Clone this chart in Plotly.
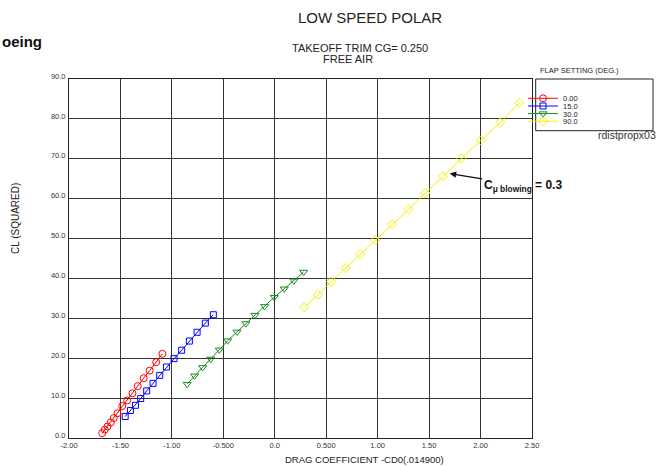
import plotly.graph_objects as go

# ---- data ----
flap_labels = ["0.00", "15.0", "30.0", "90.0"]

cd_flap0 = [-1.678, -1.652, -1.626, -1.594, -1.565, -1.529, -1.483, -1.435,
            -1.383, -1.332, -1.274, -1.216, -1.153, -1.092]
cl2_flap0 = [1.2, 2.1, 2.9, 3.9, 5.0, 6.2, 8.0, 9.4,
             11.2, 13.0, 15.0, 16.9, 19.0, 21.1]

cd_flap15 = [-1.454, -1.403, -1.354, -1.303, -1.245, -1.183, -1.118, -1.053,
             -0.979, -0.905, -0.830, -0.755, -0.675, -0.597]
cl2_flap15 = [5.4, 6.9, 8.2, 9.9, 11.8, 13.7, 15.7, 17.8,
              19.9, 22.0, 24.3, 26.5, 28.8, 30.9]

cd_flap30 = [-0.852, -0.779, -0.701, -0.623, -0.539, -0.458, -0.367, -0.280,
             -0.192, -0.099, -0.005, 0.092, 0.186, 0.280]
cl2_flap30 = [13.5, 15.6, 17.7, 19.8, 22.1, 24.4, 26.6, 28.7,
              30.8, 33.0, 35.3, 37.4, 39.4, 41.6]

cd_flap90 = [0.286, 0.419, 0.549, 0.691, 0.830, 0.979, 1.141, 1.299,
             1.464, 1.633, 1.814, 2.002, 2.192, 2.377]
cl2_flap90 = [32.8, 35.9, 39.2, 42.6, 46.1, 49.7, 53.6, 57.3,
              61.4, 65.6, 70.1, 74.6, 79.1, 84.0]

x_tick_vals = [-2.0, -1.5, -1.0, -0.5, 0.0, 0.5, 1.0, 1.5, 2.0, 2.5]
x_tick_text = ["-2.00", "-1.50", "-1.00", "-0.500", "0.0", "0.500",
               "1.00", "1.50", "2.00", "2.50"]
y_tick_vals = [0, 10, 20, 30, 40, 50, 60, 70, 80, 90]
y_tick_text = ["0.0", "10.0", "20.0", "30.0", "40.0", "50.0",
               "60.0", "70.0", "80.0", "90.0"]

blowing_point = (1.70, 66.3)

FONT = "Arial, Liberation Sans, Helvetica, sans-serif"

series = [
    (cd_flap0, cl2_flap0, "#ff0000", "circle-open", 7, "legend"),
    (cd_flap15, cl2_flap15, "#0000ff", "square-open", 6, "legend2"),
    (cd_flap30, cl2_flap30, "#1a8c1a", "triangle-down-open", 7, "legend3"),
    (cd_flap90, cl2_flap90, "#f2f200", "diamond-open", 7, "legend4"),
]

fig = go.Figure()
for (xs, ys, col, sym, sz, lg), name in zip(series, flap_labels):
    fig.add_trace(go.Scatter(
        x=xs, y=ys, name=name, mode="lines+markers", showlegend=True,
        line=dict(color=col, width=1),
        marker=dict(symbol=sym, size=sz, color=col, line=dict(width=1, color=col)),
        legend=lg,
    ))

FIG_W, FIG_H = 657, 466
PLOT_L, PLOT_R, PLOT_T, PLOT_B = 69, 532, 79, 438  # window pixels
PW = PLOT_R - PLOT_L
PH = PLOT_B - PLOT_T


def px_x(px):
    return (px - PLOT_L) / PW


def px_y(py):
    return (PLOT_B - py) / PH


legend_rows = [98.3, 106.0, 113.6, 121.2]
leg_common = dict(xanchor="left", yanchor="middle", bgcolor="rgba(0,0,0,0)",
                  borderwidth=0, visible=True,
                  font=dict(family=FONT, size=7.5, color="#222"))
legends = {}
for key, row in zip(["legend", "legend2", "legend3", "legend4"], legend_rows):
    legends[key] = dict(x=px_x(523), y=px_y(row), **leg_common)

axis_common = dict(
    showgrid=True, gridcolor="#333", gridwidth=1,
    showline=True, linecolor="#222", linewidth=1, mirror=True,
    zeroline=False, ticks="", tickmode="array",
    tickfont=dict(family=FONT, size=7.5, color="#333"),
)

fig.update_layout(
    width=FIG_W, height=FIG_H,
    margin=dict(l=PLOT_L, r=FIG_W - PLOT_R, t=PLOT_T, b=FIG_H - PLOT_B),
    paper_bgcolor="white", plot_bgcolor="white",
    font=dict(family=FONT),
    showlegend=True,
    title=dict(text="LOW SPEED POLAR", x=px_x(370), xref="paper", xanchor="center",
               y=1 - 18 / FIG_H, yref="container", yanchor="middle",
               font=dict(family=FONT, size=15, color="#222")),
    xaxis=dict(range=[-2.0, 2.5], tickvals=x_tick_vals, ticktext=x_tick_text,
               ticklabelstandoff=0, **axis_common),
    yaxis=dict(range=[0, 90], tickvals=y_tick_vals, ticktext=y_tick_text,
               ticklabelstandoff=1, ticklabelshift=-3, **axis_common),
    **legends,
)

fig.add_shape(type="rect", xref="paper", yref="paper",
              x0=px_x(535.7), x1=px_x(653), y0=px_y(130.7), y1=px_y(79),
              line=dict(color="#222", width=1), fillcolor="rgba(0,0,0,0)")

ann = [
    dict(text="TAKEOFF TRIM CG= 0.250", x=px_x(360), y=px_y(48), size=11),
    dict(text="FREE AIR", x=px_x(348), y=px_y(59), size=11),
    dict(text="DRAG COEFFICIENT -CD0(.014900)", x=px_x(364), y=px_y(459), size=9.5),
]
for a in ann:
    fig.add_annotation(text=a["text"], x=a["x"], y=a["y"], xref="paper", yref="paper",
                       xanchor="center", yanchor="middle", showarrow=False,
                       font=dict(family=FONT, size=a["size"], color="#222"))

fig.add_annotation(text="CL (SQUARED)", x=px_x(15), y=px_y(219), xref="paper", yref="paper",
                   xanchor="center", yanchor="middle", showarrow=False, textangle=-90,
                   font=dict(family=FONT, size=10, color="#222"))

fig.add_annotation(text="FLAP SETTING (DEG.)", x=px_x(538), y=px_y(70.5),
                   xref="paper", yref="paper", xanchor="left", yanchor="middle",
                   showarrow=False, font=dict(family=FONT, size=7.5, color="#222"))

fig.add_annotation(text="rdistpropx03", x=px_x(596), y=px_y(134.5),
                   xref="paper", yref="paper", xanchor="left", yanchor="middle",
                   showarrow=False, font=dict(family=FONT, size=10.5, color="#333"))

fig.add_annotation(text="<b>oeing</b>", x=px_x(0), y=px_y(41),
                   xref="paper", yref="paper", xanchor="left", yanchor="middle",
                   showarrow=False, font=dict(family=FONT, size=15, color="#111"))

fig.add_annotation(text="<b>C<sub>μ blowing</sub> = 0.3</b>",
                   x=blowing_point[0], y=blowing_point[1], xref="x", yref="y",
                   ax=73, ay=12, showarrow=True, arrowhead=2, arrowsize=1,
                   arrowwidth=1.3, arrowcolor="#111",
                   font=dict(family=FONT, size=12, color="#111"))

# the page's default 8 px body margin would push the figure off the window
fig.write_html("out.html",
               config={"displayModeBar": False},
               post_script="document.body.style.margin='0';"
                           "document.body.style.overflow='hidden';")
